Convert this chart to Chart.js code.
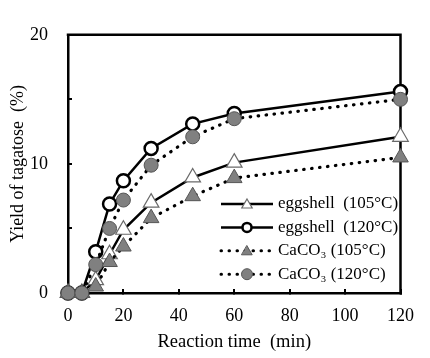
<!DOCTYPE html>
<html><head><meta charset="utf-8">
<script src="https://cdn.jsdelivr.net/npm/chart.js@4.4.1/dist/chart.umd.min.js"></script>
<style>html,body{margin:0;padding:0;background:#fff}#wrap{width:430px;height:358px;position:relative}</style>
</head><body><div id="wrap"><canvas id="c" width="430" height="358"></canvas></div>
<script>
// ---- data ----
const timeMin      = [0, 5, 10, 15, 20, 30, 45, 60, 120];
const eggshell105  = [0, 0, 1.0, 3.0, 4.9, 7.0, 8.95, 10.1, 12.1];
const eggshell120  = [0, 0, 3.2, 6.9, 8.7, 11.2, 13.1, 13.9, 15.6];
const caco3_105    = [0, 0, 0.5, 2.4, 3.6, 5.8, 7.5, 8.9, 10.5];
const caco3_120    = [0, 0, 2.2, 5.0, 7.2, 9.9, 12.1, 13.5, 15.0];
const seriesLabels = ['eggshell\u2002(105°C)', 'eggshell\u2002(120°C)', 'CaCO\u2083 (105°C)', 'CaCO\u2083 (120°C)'];
const xTickValues  = [0, 20, 40, 60, 80, 100, 120];
const yTickLabels  = [0, 10, 20];
const xTitle = 'Reaction time\u2002(min)';
const yTitle = 'Yield of tagatose\u2002(%)';

const SERIF = "'Liberation Serif', 'Times New Roman', serif";
const GRAY = '#808080';
const DARK = '#555555';

function pts(ys){ return ys.map((y,i)=>({x: timeMin[i], y})); }

const dotted = [0.5, 7.5];
const datasets = [
  {label: seriesLabels[0], data: pts(eggshell105), borderColor:'#000', borderWidth:2.5,
   pointStyle:'triangle', pointRadius:9, pointBackgroundColor:'#fff', pointBorderColor:'#6a6a6a', pointBorderWidth:1.2, order:4, legendR:6},
  {label: seriesLabels[1], data: pts(eggshell120), borderColor:'#000', borderWidth:2.5,
   pointStyle:'circle', pointRadius:6.5, pointBackgroundColor:'#fff', pointBorderColor:'#000', pointBorderWidth:2.5, order:3, legendR:4.5},
  {label: seriesLabels[2], data: pts(caco3_105), borderColor:'#000', borderWidth:3.2, borderDash:dotted, borderCapStyle:'round',
   pointStyle:'triangle', pointRadius:9, pointBackgroundColor:GRAY, pointBorderColor:DARK, pointBorderWidth:1, order:2, legendR:6},
  {label: seriesLabels[3], data: pts(caco3_120), borderColor:'#000', borderWidth:3.2, borderDash:dotted, borderCapStyle:'round',
   pointStyle:'circle', pointRadius:7, pointBackgroundColor:GRAY, pointBorderColor:DARK, pointBorderWidth:1, order:1, legendR:5.5}
];
datasets.forEach(d=>{ d.fill=false; d.tension=0; d.clip=false; d.pointHoverRadius=d.pointRadius; });

function marker(ctx, style, x, y, r, fill, stroke, bw){
  ctx.save();
  ctx.setLineDash([]);
  ctx.beginPath();
  if (style === 'circle') {
    ctx.arc(x, y, r, 0, Math.PI*2);
  } else {
    let a = 0;
    ctx.moveTo(x + Math.sin(a)*r, y - Math.cos(a)*r);
    a += Math.PI*2/3; ctx.lineTo(x + Math.sin(a)*r, y - Math.cos(a)*r);
    a += Math.PI*2/3; ctx.lineTo(x + Math.sin(a)*r, y - Math.cos(a)*r);
    ctx.closePath();
  }
  ctx.fillStyle = fill; ctx.fill();
  ctx.lineWidth = bw; ctx.strokeStyle = stroke; ctx.stroke();
  ctx.restore();
}

const framePlugin = {
  id: 'frame',
  beforeDatasetsDraw(chart){
    const {ctx, chartArea: a} = chart;
    ctx.save();
    ctx.strokeStyle = '#000'; ctx.lineWidth = 2.5; ctx.lineCap = 'square';
    ctx.beginPath();
    ctx.moveTo(a.left, a.top); ctx.lineTo(a.right, a.top); ctx.lineTo(a.right, a.bottom);
    ctx.stroke();
    ctx.restore();
  },
  afterDatasetsDraw(chart){
    const ctx = chart.ctx;
    const x0 = 221, x1 = 273, tx = 278, y0 = 204, dy = 23.4;
    ctx.save();
    chart.data.datasets.forEach((ds, i) => {
      const y = y0 + i*dy;
      ctx.beginPath();
      ctx.lineWidth = ds.borderDash ? 3 : 2.5;
      ctx.strokeStyle = ds.borderColor;
      ctx.setLineDash(ds.borderDash || []);
      ctx.lineCap = ds.borderCapStyle || 'butt';
      ctx.moveTo(x0, y); ctx.lineTo(x1, y); ctx.stroke();
      marker(ctx, ds.pointStyle, (x0+x1)/2, y + (ds.pointStyle==='triangle'?1:0), ds.legendR,
             ds.pointBackgroundColor, ds.pointBorderColor, ds.pointBorderWidth);
      ctx.setLineDash([]);
      ctx.fillStyle = '#000';
      ctx.font = '17px ' + SERIF;
      ctx.textBaseline = 'middle';
      ctx.textAlign = 'left';
      ctx.fillText(ds.label, tx, y);
    });
    ctx.restore();
  }
};

new Chart(document.getElementById('c'), {
  type: 'line',
  data: { datasets },
  options: {
    responsive: false,
    devicePixelRatio: 1,
    animation: false,
    events: [],
    layout: { padding: { left: 0, top: 18, right: 26, bottom: 0 } },
    plugins: { legend: { display: false }, tooltip: { enabled: false } },
    scales: {
      x: {
        type: 'linear', min: 0, max: 120,
        afterFit(s){ s.height = 65; },
        afterBuildTicks(s){ s.ticks = xTickValues.map(v=>({value:v})); },
        ticks: { color:'#000', padding: 16, font: { family: SERIF, size: 18 }, maxRotation: 0,
                 callback: v => String(v) },
        grid: { drawOnChartArea: false, tickLength: -4, color: '#000', lineWidth: 2 },
        border: { color: '#000', width: 2.5 },
        title: { display: true, text: xTitle, color: '#000', font: { family: SERIF, size: 18.5 }, padding: { top: 0, bottom: 5 } }
      },
      y: {
        type: 'linear', min: 0, max: 20,
        afterFit(s){ s.width = 68; },
        ticks: { stepSize: 5, color:'#000', padding: 24, font: { family: SERIF, size: 18 },
                 callback: v => (yTickLabels.includes(v) ? String(v) : '') },
        grid: { drawOnChartArea: false, tickLength: -4, color: '#000', lineWidth: 2 },
        border: { color: '#000', width: 2.5 },
        title: { display: true, text: yTitle, color: '#000', font: { family: SERIF, size: 18 }, padding: { top: 7, bottom: 0 } }
      }
    }
  },
  plugins: [framePlugin]
});
</script></body></html>
